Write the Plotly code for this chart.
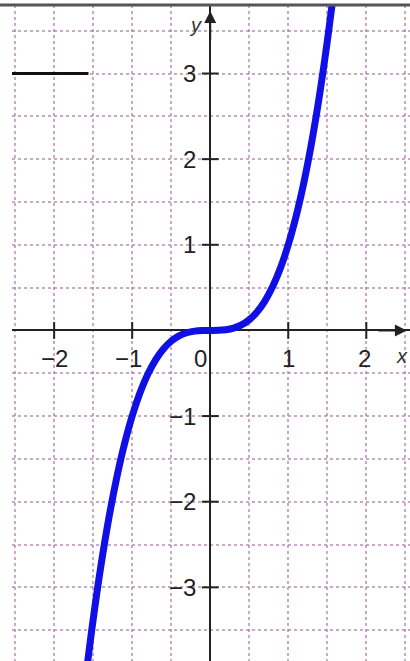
import plotly.graph_objects as go

# Curve values (y = x^3 shape)
curve_x = [-1.58, -1.5, -1.4, -1.3, -1.2, -1.1, -1.0, -0.9, -0.8, -0.7, -0.6, -0.5, -0.4, -0.3, -0.2, -0.1,
           0.0, 0.1, 0.2, 0.3, 0.4, 0.5, 0.6, 0.7, 0.8, 0.9, 1.0, 1.1, 1.2, 1.3, 1.4, 1.5, 1.58]
curve_y = [-3.94, -3.375, -2.744, -2.197, -1.728, -1.331, -1.0, -0.729, -0.512, -0.343, -0.216, -0.125, -0.064, -0.027, -0.008, -0.001,
           0.0, 0.001, 0.008, 0.027, 0.064, 0.125, 0.216, 0.343, 0.512, 0.729, 1.0, 1.331, 1.728, 2.197, 2.744, 3.375, 3.94]

x_tick_vals = [-2, -1, 0, 1, 2]
x_tick_text = ["−2", "−1", "0", "1", "2"]
x_tick_shift = [0, -4, -10, 0, -2]
y_tick_vals = [-3, -2, -1, 1, 2, 3]
y_tick_text = ["−3", "−2", "−1", "1", "2", "3"]

# short black segment at upper left
seg_x = [-2.54, -1.56]
seg_y = [3.0, 3.0]

x_range = [-2.54, 2.56]
y_range = [-3.86, 3.80]

fig = go.Figure()

fig.add_trace(go.Scatter(x=seg_x, y=seg_y, mode="lines",
                         line=dict(color="#111111", width=3), showlegend=False, hoverinfo="skip"))

fig.add_trace(go.Scatter(x=curve_x, y=curve_y, mode="lines", line_shape="spline",
                         line=dict(color="#1010e6", width=7), showlegend=False))

# tick marks on the axes
fig.add_trace(go.Scatter(x=[v for v in x_tick_vals if v != 0], y=[0] * 4, mode="markers",
                         marker=dict(symbol="line-ns", size=12, line=dict(color="#222222", width=2)),
                         showlegend=False, hoverinfo="skip"))
fig.add_trace(go.Scatter(x=[0] * len(y_tick_vals), y=y_tick_vals, mode="markers",
                         marker=dict(symbol="line-ew", size=12, line=dict(color="#222222", width=2)),
                         showlegend=False, hoverinfo="skip"))

font = dict(family="Liberation Sans", size=24, color="#222222")
annotations = []
for v, t, s in zip(x_tick_vals, x_tick_text, x_tick_shift):
    annotations.append(dict(x=v, y=0, text=t, showarrow=False, xshift=s, yshift=-28, font=font))
for v, t in zip(y_tick_vals, y_tick_text):
    annotations.append(dict(x=0, y=v, text=t, showarrow=False, xanchor="right", xshift=-12, font=font))

# axis names
annotations.append(dict(x=0, y=y_range[1], text="<i>y</i>", showarrow=False, xshift=-15, yshift=-20,
                        font=dict(family="Liberation Sans", size=20, color="#333333")))
annotations.append(dict(x=x_range[1], y=0, text="<i>x</i>", showarrow=False, xanchor="right", xshift=0, yshift=-26,
                        font=dict(family="Liberation Sans", size=20, color="#333333")))
# arrows
annotations.append(dict(x=0, y=y_range[1] - 0.07, ax=0, ay=30, text="", showarrow=True,
                        arrowhead=2, arrowsize=1.2, arrowwidth=2, arrowcolor="#222222"))
annotations.append(dict(x=x_range[1] - 0.04, y=0, ax=-30, ay=0, text="", showarrow=True,
                        arrowhead=2, arrowsize=1.2, arrowwidth=2, arrowcolor="#222222"))

grid_style = dict(showgrid=True, gridcolor="rgba(165,110,165,0.6)", gridwidth=1.5, griddash="dot",
                  dtick=0.5, tick0=0, showticklabels=False, ticks="",
                  zeroline=True, zerolinecolor="#222222", zerolinewidth=2, showline=False, fixedrange=True)

fig.update_layout(
    width=410, height=661,
    margin=dict(l=12, r=0, t=5, b=0),
    paper_bgcolor="white", plot_bgcolor="white",
    xaxis=dict(range=x_range, **grid_style),
    yaxis=dict(range=y_range, **grid_style),
    annotations=annotations,
    shapes=[dict(type="line", xref="paper", yref="paper", x0=-0.04, x1=1.0, y0=1.0, y1=1.0,
                 line=dict(color="#555555", width=3))],
    showlegend=False,
)

fig.write_html("out.html", config={"displayModeBar": False},
               post_script="document.body.style.margin='0';document.body.style.overflow='hidden';")
